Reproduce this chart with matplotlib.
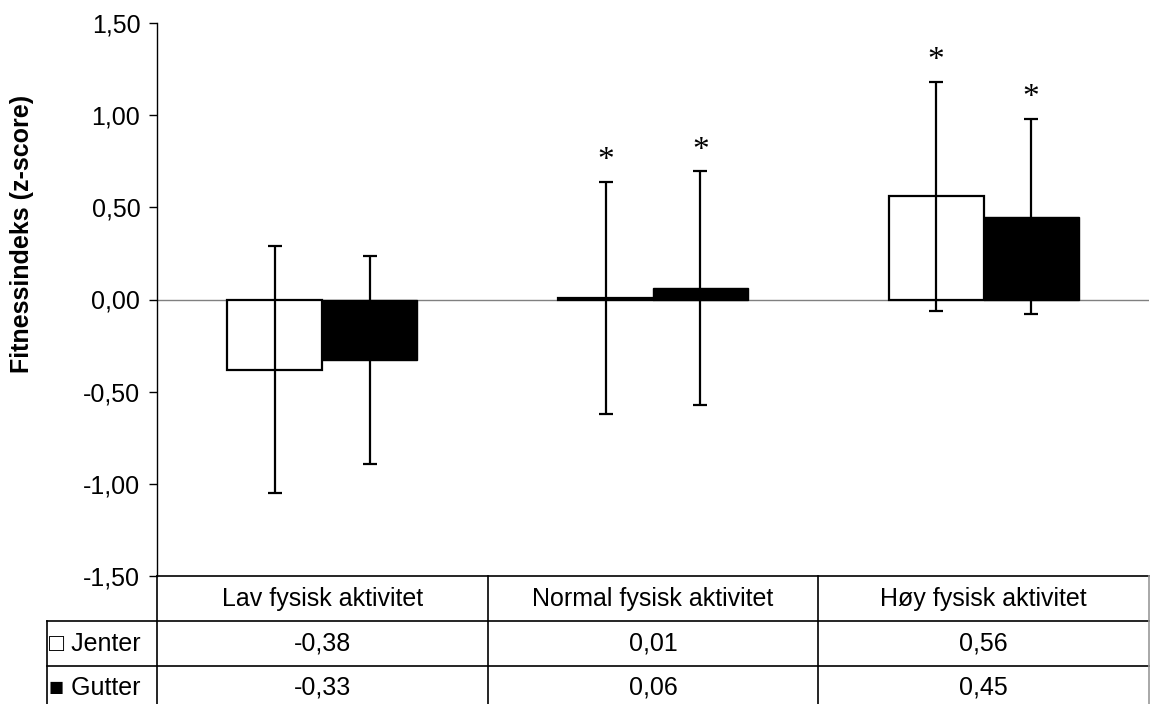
import matplotlib
matplotlib.use("Agg")
import matplotlib.pyplot as plt
import numpy as np

# data
kategorier = ["Lav fysisk aktivitet", "Normal fysisk aktivitet", "Høy fysisk aktivitet"]
jenter = [-0.38, 0.01, 0.56]
gutter = [-0.33, 0.06, 0.45]
jenter_sd = [0.67, 0.63, 0.62]
gutter_sd = [0.565, 0.635, 0.53]
jenter_stjerne = [False, True, True]
gutter_stjerne = [False, True, True]
yticks = [-1.5, -1.0, -0.5, 0.0, 0.5, 1.0, 1.5]

plt.rcParams['font.family'] = ['Liberation Sans', 'DejaVu Sans']
fs = 18

W, H = 1150, 704
fig = plt.figure(figsize=(W / 100, H / 100), dpi=100)

# axes box in pixels
x0, x1, y_top, y_bot = 157, 1149, 23, 576
ax = fig.add_axes([x0 / W, 1 - y_bot / H, (x1 - x0) / W, (y_bot - y_top) / H])

x = np.arange(len(kategorier))
bw = 0.287

ax.axhline(0, color='#808080', lw=1, zorder=1)
ax.bar(x - bw / 2, jenter, bw, color='white', edgecolor='black', lw=1.6, zorder=2)
ax.bar(x + bw / 2, gutter, bw, color='black', edgecolor='black', lw=1.0, zorder=2)
ax.errorbar(x - bw / 2, jenter, yerr=jenter_sd, fmt='none', ecolor='black',
            elinewidth=1.6, capsize=5, capthick=1.6, zorder=3)
ax.errorbar(x + bw / 2, gutter, yerr=gutter_sd, fmt='none', ecolor='black',
            elinewidth=1.6, capsize=5, capthick=1.6, zorder=3)

for i in range(len(x)):
    if jenter_stjerne[i]:
        ax.text(x[i] - bw / 2, jenter[i] + jenter_sd[i] + 0.03, '*', ha='center', va='bottom',
                family='Liberation Serif', fontsize=24)
    if gutter_stjerne[i]:
        ax.text(x[i] + bw / 2, gutter[i] + gutter_sd[i] + 0.03, '*', ha='center', va='bottom',
                family='Liberation Serif', fontsize=24)

ax.set_xlim(-0.5, len(x) - 0.5)
ax.set_ylim(-1.5, 1.5)
ax.set_yticks(yticks)
ax.set_yticklabels([f"{v:.2f}".replace('.', ',') for v in yticks], fontsize=fs)
ax.tick_params(axis='y', direction='out', length=6, width=1, pad=6)
ax.set_xticks([])
for s in ['top', 'right', 'bottom']:
    ax.spines[s].set_visible(False)
ax.spines['left'].set_linewidth(1)

fig.text(22 / W, 1 - 234 / H, 'Fitnessindeks (z-score)', rotation=90, ha='center', va='center',
         fontsize=fs, fontweight='bold')

# data table under the plot
ph = y_bot - y_top
def ya(py):
    return -(py - y_bot) / ph

lw = 1.2
tkw = dict(transform=ax.transAxes, clip_on=False, color='black', lw=lw)
ax.plot([0, 1], [0, 0], **tkw)
ax.plot([-0.111, 1], [ya(621), ya(621)], **tkw)
ax.plot([-0.111, 1], [ya(666), ya(666)], **tkw)
ax.plot([-0.111, -0.111], [ya(621), ya(710)], **tkw)
for c in [0, 1 / 3, 2 / 3]:
    ax.plot([c, c], [0, ya(710)], **tkw)
ax.plot([1, 1], [0, ya(710)], transform=ax.transAxes, clip_on=False, color='#999999', lw=lw)

for i, k in enumerate(kategorier):
    cx = (i + 0.5) / len(kategorier)
    ax.text(cx, ya(599), k, transform=ax.transAxes, ha='center', va='center', fontsize=fs)
    ax.text(cx, ya(644), f"{jenter[i]:.2f}".replace('.', ','), transform=ax.transAxes,
            ha='center', va='center', fontsize=fs)
    ax.text(cx, ya(688), f"{gutter[i]:.2f}".replace('.', ','), transform=ax.transAxes,
            ha='center', va='center', fontsize=fs)

ax.text(-0.109, ya(644), '□ Jenter', transform=ax.transAxes, ha='left', va='center', fontsize=fs)
ax.text(-0.109, ya(688), '■ Gutter', transform=ax.transAxes, ha='left', va='center', fontsize=fs)

fig.savefig('out.png', dpi=100)
